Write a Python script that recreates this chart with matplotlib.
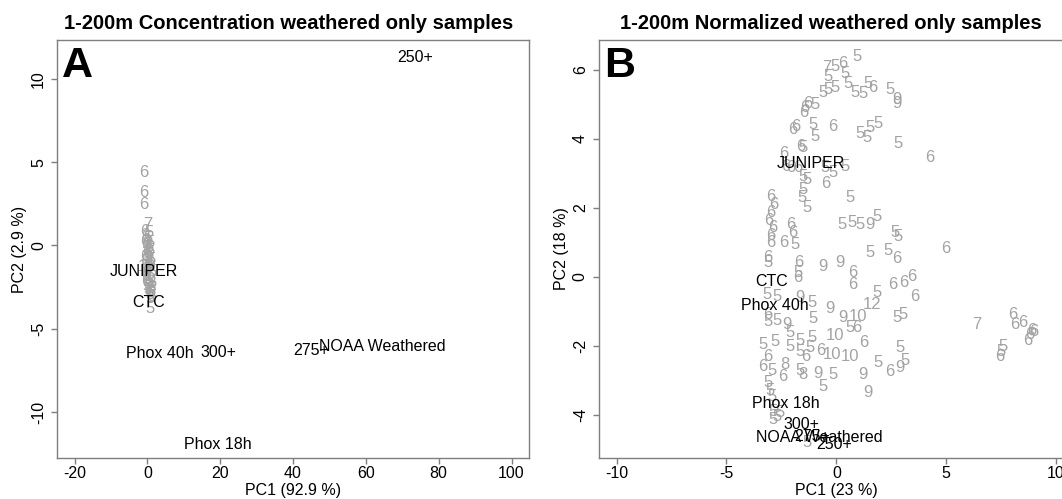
import matplotlib
matplotlib.use("Agg")
import matplotlib.pyplot as plt

plt.rcParams['font.family'] = ['Liberation Sans', 'DejaVu Sans']
plt.rcParams['axes.unicode_minus'] = False

GRAY = '#a3a3a3'
AXCOL = '#7f7f7f'

# Panel A: concentration PCA scores
a_names = ['250+', 'JUNIPER', 'CTC', 'Phox 40h', '300+', '275+', 'NOAA Weathered', 'Phox 18h']
a_name_x = [73.5, -0.9, 0.3, 3.3, 19.5, 44.9, 64.5, 19.3]
a_name_y = [11.26, -1.57, -3.43, -6.47, -6.41, -6.32, -6.08, -11.98]

a_num_lab = ['6', '6', '6', '7', '6', '5', '6', '5', '6', '5', '9', '6', '5', '5', '6',
             '5', '6', '9', '5', '5', '6', '5', '10', '5', '6', '5', '9', '5', '6', '5',
             '5', '6', '5', '9', '5', '6', '5', '5', '6', '5', '5', '5', '6', '5']
a_num_x = [-1.1, -1.1, -1.1, 0.0, -0.6, 0.4, -0.3, 0.2, -0.8, 0.6, -0.2, 0.3, -0.5, 0.8, -0.1,
           0.5, -0.7, 0.2, 1.0, -0.4, 0.1, 0.7, -0.2, 0.4, -0.6, 1.2, 0.0, 0.6, -0.3, 0.9,
           0.2, -0.5, 1.3, 0.4, -0.1, 0.8, 0.3, 1.1, 0.5, 0.7, 1.4, 0.6, 1.0, 0.6]
a_num_y = [4.41, 3.21, 2.49, 1.23, 0.85, 0.75, 0.55, 0.40, 0.25, 0.15, 0.05, -0.10, -0.20, -0.30, -0.45,
           -0.55, -0.65, -0.75, -0.85, -0.95, -1.05, -1.15, -1.25, -1.35, -1.45, -1.55, -1.65, -1.75, -1.85, -1.95,
           -2.05, -2.15, -2.25, -2.35, -2.45, -2.55, -2.65, -2.75, -2.85, -2.95, -3.05, -3.2, -2.6, -3.77]

# Panel B: normalized PCA scores
b_names = ['JUNIPER', 'CTC', 'Phox 40h', 'Phox 18h', '300+', 'NOAA Weathered', '275+', '250+']
b_name_x = [-1.15, -2.96, -2.81, -2.32, -1.61, -0.79, -1.09, -0.12]
b_name_y = [3.30, -0.12, -0.84, -3.68, -4.29, -4.65, -4.64, -4.87]

b_num_lab = ['7', '5', '6', '5', '5', '5', '5', '5', '5', '5', '5', '5', '5', '6', '5', '9', '9',
             '6', '5', '6', '6', '6', '6', '5', '5', '6', '5', '5', '5', '5', '5', '6', '6', '6',
             '5', '6', '6', '6', '5', '5', '5', '5', '5', '6', '5', '5', '5', '5', '6', '6', '6',
             '6', '6', '6', '6', '6', '5', '5', '5', '9', '5', '5', '5', '5', '6', '6', '6', '6',
             '5', '6', '5', '6', '5', '6', '9', '9', '5', '6', '6', '6', '6', '6', '6', '5', '12',
             '5', '5', '9', '5', '9', '5', '9', '10', '5', '6', '5', '5', '6', '5', '5', '9', '5',
             '5', '5', '10', '5', '5', '6', '6', '5', '5', '5', '6', '6', '10', '10', '6', '5', '6',
             '8', '5', '8', '9', '5', '5', '9', '9', '5', '6', '5', '9', '5', '5', '5', '5', '5',
             '5', '5', '5', '5', '7', '6', '6', '6', '6', '6', '6', '6', '5', '6', '5']
b_num_x = [-0.45, -0.05, 0.27, 0.95, -0.36, 0.41, -0.59, -0.36, -0.05, 0.55, 0.86, 1.23, 1.45, 1.64, 2.45, 2.77, 2.77,
           -1.32, -0.95, -1.5, -1.45, -2.0, -1.86, -1.05, -0.95, -0.14, 1.09, 1.41, 1.55, 1.91, 2.82, 4.23, -2.41, -1.64,
           -1.5, -2.32, -2.09, -1.77, 0.41, -0.14, -0.5, -1.5, -1.32, -0.5, 0.64, -1.55, -1.32, -1.5, -3.0, -2.86, -3.0,
           -3.09, -2.91, -3.0, -2.09, -2.0, 0.27, 0.73, 1.09, 1.55, 1.86, 2.68, 2.82, 2.36, 2.73, 5.0, -3.0, -2.41,
           -1.86, -3.14, -3.09, -1.73, -1.73, -1.77, -0.59, 0.18, 1.55, 0.73, 0.73, 2.59, 3.05, 3.41, 3.59, 1.86, 1.64,
           -3.14, -2.68, -1.64, -1.09, -0.27, -1.05, 0.32, 1.0, 0.64, 0.95, 2.77, 3.05, -3.14, -3.09, -2.68, -2.23, -2.09,
           -1.64, -1.09, -0.05, -3.32, -2.77, 1.23, -3.14, -2.09, -1.64, -1.18, -0.73, -1.41, -0.18, 0.64, -3.36, -2.91, -2.45,
           -2.32, -1.64, -1.5, -0.82, -0.14, -0.59, 1.23, 1.45, 1.91, 2.45, 2.91, 2.91, 3.14, -3.09, -3.0, -2.91, -2.86,
           -2.68, -2.55, -2.86, -1.32, 6.41, 8.05, 8.5, 8.14, 8.82, 8.91, 8.73, 9.0, 7.59, 7.45, 7.5]
b_num_y = [6.06, 6.09, 6.20, 6.38, 5.80, 5.91, 5.36, 5.42, 5.48, 5.62, 5.36, 5.33, 5.62, 5.48, 5.42, 5.04, 5.13,
           5.04, 4.99, 4.78, 4.90, 4.26, 4.35, 4.41, 4.06, 4.35, 4.17, 4.03, 4.32, 4.46, 3.86, 3.45, 3.59, 3.77,
           3.74, 3.19, 3.16, 3.16, 3.19, 3.04, 3.16, 2.90, 2.81, 2.72, 2.29, 2.29, 2.0, 2.52, 2.32, 2.09, 1.86,
           1.65, 1.42, 1.19, 1.51, 1.28, 1.51, 1.57, 1.51, 1.51, 1.74, 1.28, 1.16, 0.78, 0.52, 0.81, 1.01, 1.01,
           0.93, 0.55, 0.43, 0.41, 0.14, -0.03, 0.29, 0.43, 0.70, 0.12, -0.23, -0.23, -0.17, 0.0, -0.58, -0.46, -0.81,
           -0.52, -0.58, -0.61, -0.75, -0.93, -1.22, -1.19, -1.16, -1.48, -1.48, -1.19, -1.10, -1.10, -1.30, -1.25, -1.39, -1.62,
           -1.83, -1.77, -1.71, -1.97, -1.88, -1.91, -2.32, -2.03, -2.17, -2.06, -2.12, -2.32, -2.26, -2.32, -2.61, -2.70, -2.90,
           -2.55, -2.70, -2.84, -2.81, -2.84, -3.19, -2.84, -3.36, -2.49, -2.75, -2.06, -2.64, -2.41, -3.07, -3.28, -3.48, -3.91,
           -4.06, -3.94, -4.14, -4.81, -1.39, -1.10, -1.33, -1.39, -1.68, -1.54, -1.83, -1.59, -2.03, -2.32, -2.17]

fig = plt.figure(figsize=(10.62, 4.99), dpi=100)
axA = fig.add_axes([0.0537, 0.0822, 0.4444, 0.8377])
axB = fig.add_axes([0.564, 0.0822, 0.447, 0.8377])


def style(ax):
    for s in ax.spines.values():
        s.set_color(AXCOL)
        s.set_linewidth(1.0)
    ax.tick_params(direction='out', length=4, width=1, color=AXCOL, labelsize=11.5, pad=2)
    ax.tick_params(axis='y', pad=4)
    for lab in ax.get_yticklabels():
        lab.set_rotation(90)
        lab.set_va('center')


# panel A
for t, x, y in zip(a_num_lab, a_num_x, a_num_y):
    axA.text(x, y, t, color=GRAY, fontsize=12, ha='center', va='center')
for t, x, y in zip(a_names, a_name_x, a_name_y):
    axA.text(x, y, t, color='black', fontsize=11.5, ha='center', va='center')
axA.set_xlim(-24.8, 104.8)
axA.set_ylim(-12.76, 12.34)
axA.set_xticks([-20, 0, 20, 40, 60, 80, 100])
axA.set_yticks([-10, -5, 0, 5, 10])
style(axA)
axA.set_xlabel('PC1 (92.9 %)', fontsize=11.5, labelpad=1)
axA.set_ylabel('PC2 (2.9 %)', fontsize=11.5, labelpad=3)
axA.set_title('1-200m Concentration weathered only samples', fontsize=14.5, fontweight='bold', pad=8, x=0.49)
axA.text(0.01, 0.985, 'A', transform=axA.transAxes, fontsize=31, fontweight='bold', ha='left', va='top')

# panel B
for t, x, y in zip(b_num_lab, b_num_x, b_num_y):
    axB.text(x, y, t, color=GRAY, fontsize=12, ha='center', va='center')
for t, x, y in zip(b_names, b_name_x, b_name_y):
    axB.text(x, y, t, color='black', fontsize=11.5, ha='center', va='center')
axB.set_xlim(-10.8, 10.8)
axB.set_ylim(-5.25, 6.87)
axB.set_xticks([-10, -5, 0, 5, 10])
axB.set_yticks([-4, -2, 0, 2, 4, 6])
style(axB)
axB.set_xlabel('PC1 (23 %)', fontsize=11.5, labelpad=1)
axB.set_ylabel('PC2 (18 %)', fontsize=11.5, labelpad=3)
axB.set_title('1-200m Normalized weathered only samples', fontsize=14.5, fontweight='bold', pad=8, x=0.488)
axB.text(0.01, 0.985, 'B', transform=axB.transAxes, fontsize=31, fontweight='bold', ha='left', va='top')

fig.savefig('out.png', dpi=100)
